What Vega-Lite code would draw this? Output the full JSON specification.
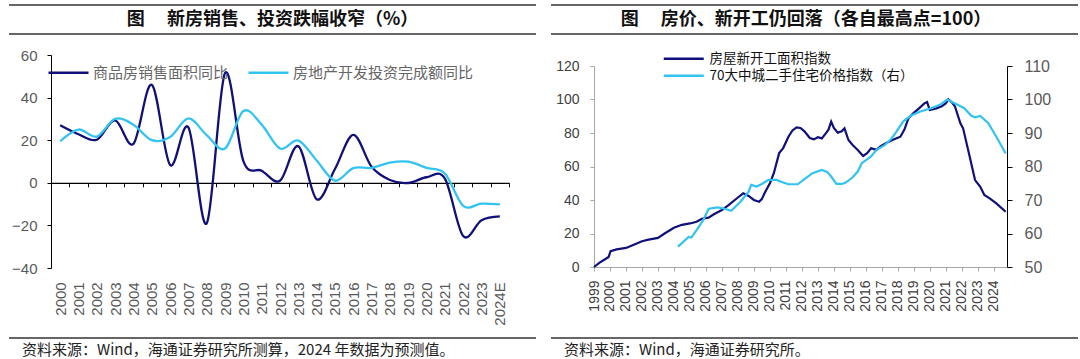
{
  "$schema": "https://vega.github.io/schema/vega-lite/v6.json",
  "padding": {"left": 8, "top": 4, "right": 5, "bottom": 5},
  "background": "white",
  "config": {
    "view": {"stroke": null},
    "font": "Noto Sans CJK SC",
    "axis": {"labelFont": "Liberation Sans", "grid": false}
  },
  "datasets": {
    "left": [
      {"year": "2000", "sales": 27, "inv": 19.5},
      {"year": "2001", "sales": 22.8, "inv": 25},
      {"year": "2002", "sales": 20.2, "inv": 21.7},
      {"year": "2003", "sales": 29.3, "inv": 30},
      {"year": "2004", "sales": 18.3, "inv": 27.3},
      {"year": "2005", "sales": 46, "inv": 20},
      {"year": "2006", "sales": 8.4, "inv": 21.5},
      {"year": "2007", "sales": 26, "inv": 30.2},
      {"year": "2008", "sales": -19, "inv": 22.4},
      {"year": "2009", "sales": 51.5, "inv": 16.1},
      {"year": "2010", "sales": 10.2, "inv": 33.7},
      {"year": "2011", "sales": 5.7, "inv": 27.3},
      {"year": "2012", "sales": 1, "inv": 16.1},
      {"year": "2013", "sales": 17.2, "inv": 19.8},
      {"year": "2014", "sales": -7.7, "inv": 10.5},
      {"year": "2015", "sales": 6.5, "inv": 1},
      {"year": "2016", "sales": 22.5, "inv": 6.9},
      {"year": "2017", "sales": 7.5, "inv": 7},
      {"year": "2018", "sales": 1.3, "inv": 9.5},
      {"year": "2019", "sales": -0.1, "inv": 9.9},
      {"year": "2020", "sales": 2.6, "inv": 7},
      {"year": "2021", "sales": 2, "inv": 4.4},
      {"year": "2022", "sales": -25, "inv": -10.8},
      {"year": "2023", "sales": -17.6, "inv": -9.8},
      {"year": "2024E", "sales": -15.8, "inv": -10.1}
    ],
    "starts": [
      {"d": "1999-01-01", "v": 0},
      {"d": "1999-05-01", "v": 2.5},
      {"d": "1999-09-01", "v": 4.5},
      {"d": "1999-12-01", "v": 6},
      {"d": "2000-01-15", "v": 9.4},
      {"d": "2000-06-01", "v": 10.5},
      {"d": "2001-01-01", "v": 11.4},
      {"d": "2001-06-01", "v": 13},
      {"d": "2002-01-01", "v": 15.4},
      {"d": "2002-06-01", "v": 16.3},
      {"d": "2003-01-01", "v": 17.4},
      {"d": "2003-06-01", "v": 20},
      {"d": "2004-01-01", "v": 23.4},
      {"d": "2004-07-01", "v": 25.2},
      {"d": "2005-01-01", "v": 26},
      {"d": "2005-06-01", "v": 27},
      {"d": "2005-10-01", "v": 28.8},
      {"d": "2006-03-01", "v": 29.5},
      {"d": "2006-07-01", "v": 31.5},
      {"d": "2007-01-01", "v": 34},
      {"d": "2007-06-01", "v": 37},
      {"d": "2008-01-01", "v": 41.5},
      {"d": "2008-05-01", "v": 44},
      {"d": "2008-09-01", "v": 42.4},
      {"d": "2009-01-01", "v": 40},
      {"d": "2009-05-01", "v": 39},
      {"d": "2009-07-01", "v": 40.5},
      {"d": "2009-09-01", "v": 44},
      {"d": "2010-01-01", "v": 50},
      {"d": "2010-04-01", "v": 56},
      {"d": "2010-08-01", "v": 68},
      {"d": "2010-11-01", "v": 71},
      {"d": "2011-03-01", "v": 77.8},
      {"d": "2011-06-01", "v": 81.5},
      {"d": "2011-09-01", "v": 83.4},
      {"d": "2011-12-01", "v": 83},
      {"d": "2012-03-01", "v": 81},
      {"d": "2012-07-01", "v": 77},
      {"d": "2012-10-01", "v": 76.2},
      {"d": "2013-01-01", "v": 77.5},
      {"d": "2013-04-01", "v": 76.8},
      {"d": "2013-07-01", "v": 79.8},
      {"d": "2013-09-01", "v": 82},
      {"d": "2013-11-01", "v": 86.8},
      {"d": "2014-01-01", "v": 83},
      {"d": "2014-04-01", "v": 80.2},
      {"d": "2014-07-01", "v": 81},
      {"d": "2014-09-01", "v": 82.8},
      {"d": "2014-12-01", "v": 75.8},
      {"d": "2015-03-01", "v": 73},
      {"d": "2015-07-01", "v": 69.9},
      {"d": "2015-11-01", "v": 66.3},
      {"d": "2016-02-01", "v": 68},
      {"d": "2016-05-01", "v": 70.9},
      {"d": "2016-09-01", "v": 69.9},
      {"d": "2016-12-01", "v": 72},
      {"d": "2017-04-01", "v": 73.9},
      {"d": "2017-09-01", "v": 75.8},
      {"d": "2018-03-01", "v": 77.8},
      {"d": "2018-06-01", "v": 82},
      {"d": "2018-09-01", "v": 88.8},
      {"d": "2019-01-01", "v": 92},
      {"d": "2019-05-01", "v": 94.7},
      {"d": "2019-09-01", "v": 97.7},
      {"d": "2019-11-01", "v": 98.5},
      {"d": "2020-01-01", "v": 93.7},
      {"d": "2020-03-01", "v": 94},
      {"d": "2020-06-01", "v": 94.7},
      {"d": "2020-10-01", "v": 96},
      {"d": "2021-01-01", "v": 97.7},
      {"d": "2021-03-01", "v": 100},
      {"d": "2021-06-01", "v": 98},
      {"d": "2021-08-01", "v": 95.7},
      {"d": "2021-12-01", "v": 85.8},
      {"d": "2022-02-01", "v": 82.8},
      {"d": "2022-07-01", "v": 65.9},
      {"d": "2022-11-01", "v": 51.9},
      {"d": "2023-03-01", "v": 47.9},
      {"d": "2023-06-01", "v": 43},
      {"d": "2023-10-01", "v": 41},
      {"d": "2024-03-01", "v": 38},
      {"d": "2024-10-01", "v": 33}
    ],
    "price": [
      {"d": "2004-04-01", "v": 56.1},
      {"d": "2004-08-01", "v": 57.5},
      {"d": "2004-12-01", "v": 59},
      {"d": "2005-02-01", "v": 58.8},
      {"d": "2005-06-01", "v": 61},
      {"d": "2005-11-01", "v": 64},
      {"d": "2006-03-01", "v": 67.3},
      {"d": "2006-06-01", "v": 67.6},
      {"d": "2006-10-01", "v": 67.8},
      {"d": "2007-03-01", "v": 67.4},
      {"d": "2007-08-01", "v": 66.8},
      {"d": "2008-03-01", "v": 69.5},
      {"d": "2008-09-01", "v": 72.5},
      {"d": "2008-11-01", "v": 74.5},
      {"d": "2009-03-01", "v": 74},
      {"d": "2009-07-01", "v": 74.8},
      {"d": "2009-12-01", "v": 76},
      {"d": "2010-06-01", "v": 76},
      {"d": "2010-11-01", "v": 75.2},
      {"d": "2011-03-01", "v": 74.7},
      {"d": "2011-10-01", "v": 74.7},
      {"d": "2012-03-01", "v": 76.2},
      {"d": "2012-09-01", "v": 78},
      {"d": "2013-04-01", "v": 79},
      {"d": "2013-08-01", "v": 78.4},
      {"d": "2013-11-01", "v": 77},
      {"d": "2014-03-01", "v": 74.8},
      {"d": "2014-07-01", "v": 74.8},
      {"d": "2014-10-01", "v": 75.2},
      {"d": "2015-03-01", "v": 76.7},
      {"d": "2015-07-01", "v": 78.5},
      {"d": "2015-10-01", "v": 81},
      {"d": "2016-05-01", "v": 83},
      {"d": "2016-09-01", "v": 85},
      {"d": "2017-03-01", "v": 86.3},
      {"d": "2017-08-01", "v": 88.2},
      {"d": "2017-11-01", "v": 89.8},
      {"d": "2018-05-01", "v": 93.4},
      {"d": "2018-11-01", "v": 95.2},
      {"d": "2019-06-01", "v": 96.4},
      {"d": "2020-02-01", "v": 97.4},
      {"d": "2020-09-01", "v": 98.5},
      {"d": "2021-02-01", "v": 100},
      {"d": "2021-08-01", "v": 98.8},
      {"d": "2022-03-01", "v": 97.4},
      {"d": "2022-08-01", "v": 95.2},
      {"d": "2022-11-01", "v": 94.7},
      {"d": "2023-03-01", "v": 95.1},
      {"d": "2023-09-01", "v": 92.9},
      {"d": "2024-03-01", "v": 88.9},
      {"d": "2024-10-01", "v": 83.9}
    ]
  },
  "resolve": {"scale": {"color": "independent"}, "legend": {"color": "independent"}},
  "spacing": 13,
  "hconcat": [
    {
      "concat": [
        {
          "width": 485, "height": 29,
          "data": {"values": [{"p": 0}, {"p": 1}]},
          "layer": [
            {"mark": {"type": "rule", "strokeWidth": 1.5, "color": "#333333", "xOffset": -42},
              "encoding": {
                "x": {"datum": 0, "type": "quantitative", "scale": {"domain": [0, 1]}, "axis": null},
                "x2": {"datum": 1},
                "y": {"field": "p", "type": "quantitative", "scale": {"domain": [0, 1]}, "axis": null}}},
            {"transform": [{"filter": "datum.p == 0"}],
              "mark": {"type": "text", "fontSize": 18, "fontWeight": "bold", "color": "#111111", "baseline": "middle", "align": "center", "dx": -21},
              "encoding": {"x": {"datum": 0.5, "type": "quantitative"}, "text": {"value": "图　 新房销售、投资跌幅收窄（%）"}}}
          ]
        },
        {
          "concat": [
            {
              "width": 458, "height": 213,
              "data": {"name": "left"},
              "encoding": {
                "x": {"field": "year", "type": "nominal", "scale": {"type": "band", "paddingInner": 0, "paddingOuter": 0},
                  "axis": {"orient": "bottom", "offset": -85.2, "title": null, "domainColor": "#000000", "domainWidth": 1.2, "tickColor": "#000000", "tickSize": 4, "tickBand": "extent", "labelAngle": -90, "labelPadding": 95, "labelFontSize": 15, "labelColor": "#595959"}}
              },
              "layer": [
                {"mark": {"type": "line", "interpolate": "cardinal", "strokeWidth": 2.3},
                  "encoding": {
                    "y": {"field": "sales", "type": "quantitative", "title": null, "scale": {"domain": [-40, 60], "nice": false},
                      "axis": {"values": [-40, -20, 0, 20, 40, 60], "title": null, "domainColor": "#000000", "tickColor": "#000000", "tickSize": 4, "labelPadding": 10, "labelFontSize": 15, "labelColor": "#595959", "minExtent": 42}},
                    "color": {"datum": "商品房销售面积同比", "type": "nominal",
                      "scale": {"domain": ["商品房销售面积同比", "房地产开发投资完成额同比"], "range": ["#10107a", "#33c3f0"]},
                      "legend": {"orient": "none", "legendX": 10, "legendY": 10, "direction": "horizontal", "title": null, "symbolType": "M-4,0H4", "symbolSize": 100, "symbolStrokeWidth": 2.5, "labelFontSize": 15, "labelColor": "#666666", "labelFont": "Noto Sans CJK SC", "labelLimit": 400, "columnPadding": 14, "labelOffset": 17, "padding": 0}}
                  }},
                {"mark": {"type": "line", "interpolate": "cardinal", "strokeWidth": 2.3},
                  "encoding": {
                    "y": {"field": "inv", "type": "quantitative", "title": null},
                    "color": {"datum": "房地产开发投资完成额同比", "type": "nominal"}
                  }}
              ]
            },
            {
              "width": 485, "height": 24,
              "data": {"values": [{"p": 1}]},
              "layer": [
                {"mark": {"type": "rule", "strokeWidth": 1.5, "color": "#333333", "xOffset": -42},
                  "encoding": {
                    "x": {"datum": 0, "type": "quantitative", "scale": {"domain": [0, 1]}, "axis": null},
                    "x2": {"datum": 1},
                    "y": {"datum": 1, "type": "quantitative", "scale": {"domain": [0, 1]}, "axis": null}}},
                {"mark": {"type": "text", "fontSize": 15, "color": "#222222", "align": "left", "baseline": "middle", "dx": -29},
                  "encoding": {"x": {"datum": 0, "type": "quantitative"}, "text": {"value": "资料来源：Wind，海通证券研究所测算，2024 年数据为预测值。"}}}
              ]
            }
          ],
          "columns": 1, "spacing": 11,
          "resolve": {"scale": {"color": "independent"}, "legend": {"color": "independent"}}
        }
      ],
      "columns": 1, "spacing": 13,
      "resolve": {"scale": {"color": "independent"}, "legend": {"color": "independent"}}
    },
    {
      "concat": [
        {
          "width": 484, "height": 29,
          "data": {"values": [{"p": 0}, {"p": 1}]},
          "layer": [
            {"mark": {"type": "rule", "strokeWidth": 1.5, "color": "#333333", "xOffset": -43},
              "encoding": {
                "x": {"datum": 0, "type": "quantitative", "scale": {"domain": [0, 1]}, "axis": null},
                "x2": {"datum": 1},
                "y": {"field": "p", "type": "quantitative", "scale": {"domain": [0, 1]}, "axis": null}}},
            {"transform": [{"filter": "datum.p == 0"}],
              "mark": {"type": "text", "fontSize": 18, "fontWeight": "bold", "color": "#111111", "baseline": "middle", "align": "center", "dx": -30},
              "encoding": {"x": {"datum": 0.5, "type": "quantitative"}, "text": {"value": "图　 房价、新开工仍回落（各自最高点=100）"}}}
          ]
        },
        {
          "concat": [
            {
              "width": 413, "height": 201,
              "layer": [
                {"data": {"name": "starts"}, "mark": {"type": "line", "strokeWidth": 2.2},
                  "encoding": {
                    "x": {"field": "d", "type": "temporal", "title": null, "scale": {"domain": ["1999-01-01", "2024-10-31"]},
                      "axis": {"format": "%Y", "tickCount": {"interval": "year", "step": 1}, "labelAngle": -90, "labelFontSize": 14, "labelColor": "#404040", "domainColor": "#a6a6a6", "tickColor": "#a6a6a6", "tickSize": 4, "labelPadding": 9, "labelOverlap": false, "labelFlush": false, "title": null}},
                    "y": {"field": "v", "type": "quantitative", "title": null, "scale": {"domain": [0, 120], "nice": false},
                      "axis": {"values": [0, 20, 40, 60, 80, 100, 120], "title": null, "domainColor": "#a6a6a6", "tickColor": "#a6a6a6", "tickSize": 4, "labelPadding": 11, "labelFontSize": 14, "labelColor": "#404040", "minExtent": 43}},
                    "color": {"datum": "房屋新开工面积指数", "type": "nominal",
                      "scale": {"domain": ["房屋新开工面积指数", "70大中城二手住宅价格指数（右）"], "range": ["#10107a", "#33c3f0"]},
                      "legend": {"orient": "none", "legendX": 83, "legendY": -14, "direction": "vertical", "title": null, "symbolType": "M-4,0H4", "symbolSize": 100, "symbolStrokeWidth": 2.5, "labelFontSize": 13.5, "labelColor": "#111111", "labelFont": "Noto Sans CJK SC", "labelLimit": 400, "rowPadding": 2, "labelOffset": 19, "padding": 0}}
                  }},
                {"data": {"name": "price"}, "mark": {"type": "line", "strokeWidth": 2.2},
                  "encoding": {
                    "x": {"field": "d", "type": "temporal", "title": null},
                    "y": {"field": "v", "type": "quantitative", "title": null, "scale": {"domain": [50, 110], "nice": false},
                      "axis": {"orient": "right", "values": [50, 60, 70, 80, 90, 100, 110], "title": null, "domainColor": "#000000", "tickColor": "#000000", "tickSize": 5, "labelPadding": 12, "labelFontSize": 16, "labelColor": "#595959"}},
                    "color": {"datum": "70大中城二手住宅价格指数（右）", "type": "nominal"}
                  }}
              ],
              "resolve": {"scale": {"y": "independent"}}
            },
            {
              "width": 484, "height": 24,
              "data": {"values": [{"p": 1}]},
              "layer": [
                {"mark": {"type": "rule", "strokeWidth": 1.5, "color": "#333333", "xOffset": -43},
                  "encoding": {
                    "x": {"datum": 0, "type": "quantitative", "scale": {"domain": [0, 1]}, "axis": null},
                    "x2": {"datum": 1},
                    "y": {"datum": 1, "type": "quantitative", "scale": {"domain": [0, 1]}, "axis": null}}},
                {"mark": {"type": "text", "fontSize": 15, "color": "#222222", "align": "left", "baseline": "middle", "dx": -30},
                  "encoding": {"x": {"datum": 0, "type": "quantitative"}, "text": {"value": "资料来源：Wind，海通证券研究所。"}}}
              ]
            }
          ],
          "columns": 1, "spacing": 25,
          "resolve": {"scale": {"color": "independent"}, "legend": {"color": "independent"}}
        }
      ],
      "columns": 1, "spacing": 17,
      "resolve": {"scale": {"color": "independent"}, "legend": {"color": "independent"}}
    }
  ]
}
